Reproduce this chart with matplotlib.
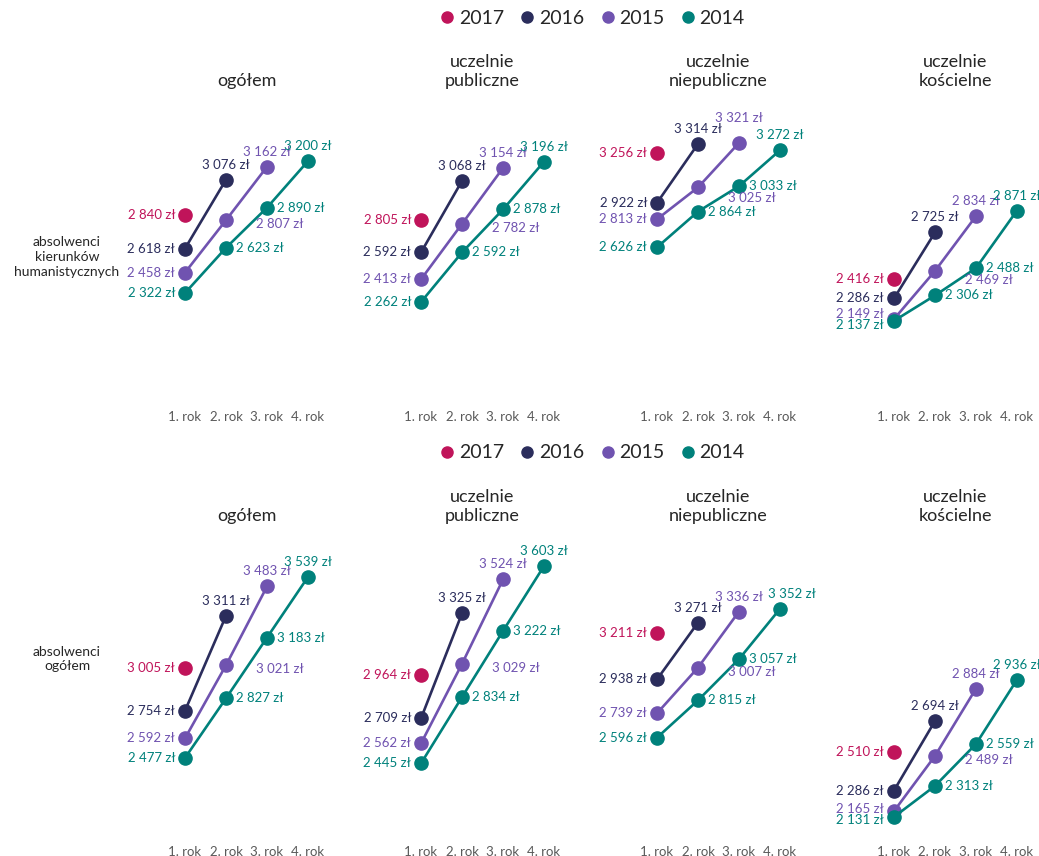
import matplotlib
matplotlib.use('Agg')
import matplotlib.pyplot as plt
from matplotlib.lines import Line2D

plt.rcParams['font.family'] = ['Lato', 'DejaVu Sans']

years = ['2017', '2016', '2015', '2014']
study_years = ['1. rok', '2. rok', '3. rok', '4. rok']
panel_titles = ['ogółem', 'uczelnie\npubliczne', 'uczelnie\nniepubliczne', 'uczelnie\nkościelne']
row_labels = ['absolwenci\nkierunków\nhumanistycznych', 'absolwenci\nogółem']

# absolwenci kierunków humanistycznych (per panel: ogółem, publiczne, niepubliczne, kościelne)
hum_2017 = [[2840], [2805], [3256], [2416]]
hum_2016 = [[2618, 3076], [2592, 3068], [2922, 3314], [2286, 2725]]
hum_2015 = [[2458, 2807, 3162], [2413, 2782, 3154], [2813, 3025, 3321], [2149, 2469, 2834]]
hum_2014 = [[2322, 2623, 2890, 3200], [2262, 2592, 2878, 3196],
            [2626, 2864, 3033, 3272], [2137, 2306, 2488, 2871]]

# absolwenci ogółem
all_2017 = [[3005], [2964], [3211], [2510]]
all_2016 = [[2754, 3311], [2709, 3325], [2938, 3271], [2286, 2694]]
all_2015 = [[2592, 3021, 3483], [2562, 3029, 3524], [2739, 3007, 3336], [2165, 2489, 2884]]
all_2014 = [[2477, 2827, 3183, 3539], [2445, 2834, 3222, 3603],
            [2596, 2815, 3057, 3352], [2131, 2313, 2559, 2936]]

colors = {'2017': '#C0145A', '2016': '#2B2D5C', '2015': '#7053B0', '2014': '#00817B'}
W, H = 1039, 856
PT = 0.72  # points per pixel at dpi 100
FS = 9.5


def zl(v):
    return f"{v:,}".replace(',', ' ') + ' zł'


def put(ax, v, i, dx, dy, ha, va, col):
    ax.annotate(zl(v), (i, v), xytext=(dx * PT, dy * PT), textcoords='offset points',
                ha=ha, va=va, color=col, fontsize=FS)


def label_panel(ax, series, scale):
    # series: list of value lists in order 2017, 2016, 2015, 2014; scale: px per zł
    # first points: labels on the left, pushed apart so they don't collide
    firsts = [[s[0] * scale, s[0] * scale] for s in series]  # [point y, label y] in px
    order = sorted(range(len(firsts)), key=lambda k: firsts[k][0])
    for _ in range(20):
        for a, b in zip(order, order[1:]):
            gap = firsts[b][1] - firsts[a][1]
            if gap < 11:
                firsts[a][1] -= (11 - gap) / 2
                firsts[b][1] += (11 - gap) / 2
    for s, yr, (py, ly) in zip(series, years, firsts):
        put(ax, s[0], 0, -10, ly - py, 'right', 'center', colors[yr])

    # last points: labels above; nudge when neighbouring labels sit at the same height
    s16, s15, s14 = series[1], series[2], series[3]
    put(ax, s16[-1], 1, 0, 9, 'center', 'bottom', colors['2016'])
    rel = (s15[-1] - s16[-1]) * scale
    up15 = 9 + (11 - rel if abs(rel) < 11 else 0)
    put(ax, s15[-1], 2, 0, up15, 'center', 'bottom', colors['2015'])
    rel = (s14[-1] * scale + 9) - (s15[-1] * scale + up15)
    dx14 = 12 if abs(rel) < 5 else 0
    put(ax, s14[-1], 3, dx14, 9, 'center', 'bottom', colors['2014'])

    # middle points: labels on the right
    rel = (s15[1] - s14[2]) * scale
    dy = -4
    if abs(rel + dy) < 12:
        dy = -12 - rel
    put(ax, s15[1], 1, 30, dy, 'left', 'center', colors['2015'])
    for i in (1, 2):
        put(ax, s14[i], i, 10, 0, 'left', 'center', colors['2014'])


fig = plt.figure(figsize=(W / 100, H / 100), dpi=100)

rows = [
    dict(data=[hum_2017, hum_2016, hum_2015, hum_2014], ylim=(1557, 3450),
         top=123.5, bottom=408, legend_y=18, title_y=89, label_y=257),
    dict(data=[all_2017, all_2016, all_2015, all_2014], ylim=(1978, 3700),
         top=549.5, bottom=843, legend_y=453, title_y=524, label_y=659),
]
first_x = [185, 421, 657, 894]
step = 41

for r, row in enumerate(rows):
    height = row['bottom'] - row['top']
    scale = height / (row['ylim'][1] - row['ylim'][0])
    for p in range(4):
        left = first_x[p] - step / 2
        ax = fig.add_axes([left / W, 1 - row['bottom'] / H, 4 * step / W, height / H])
        ax.set_xlim(-0.5, 3.5)
        ax.set_ylim(*row['ylim'])
        series = [d[p] for d in row['data']]
        for yr, vals in zip(years, series):
            xs = list(range(len(vals)))
            ax.plot(xs, vals, color=colors[yr], lw=1.9, marker='o', markersize=9.5,
                    solid_capstyle='round', clip_on=False, zorder=3)
        label_panel(ax, series, scale)
        ax.set_xticks(range(4), study_years)
        ax.set_yticks([])
        ax.tick_params(axis='x', length=0, labelsize=9.5, colors='#595959', pad=2)
        for s in ax.spines.values():
            s.set_visible(False)
        ax.patch.set_visible(False)
        fig.text((first_x[p] + 1.5 * step) / W, 1 - row['title_y'] / H, panel_titles[p],
                 ha='center', va='bottom', fontsize=13, color='#262626', linespacing=1.2)

    fig.text(67 / W, 1 - row['label_y'] / H, row_labels[r], ha='center', va='center',
             fontsize=10, color='#262626', linespacing=1.3)

    handles = [Line2D([], [], marker='o', ls='', color=colors[y], markersize=8) for y in years]
    fig.legend(handles, years, loc='center', bbox_to_anchor=(593 / W, 1 - row['legend_y'] / H),
               ncol=4, frameon=False, fontsize=14, handlelength=0.6, handletextpad=0.3,
               columnspacing=0.9, labelcolor='#262626')

fig.savefig('out.png', dpi=100)
